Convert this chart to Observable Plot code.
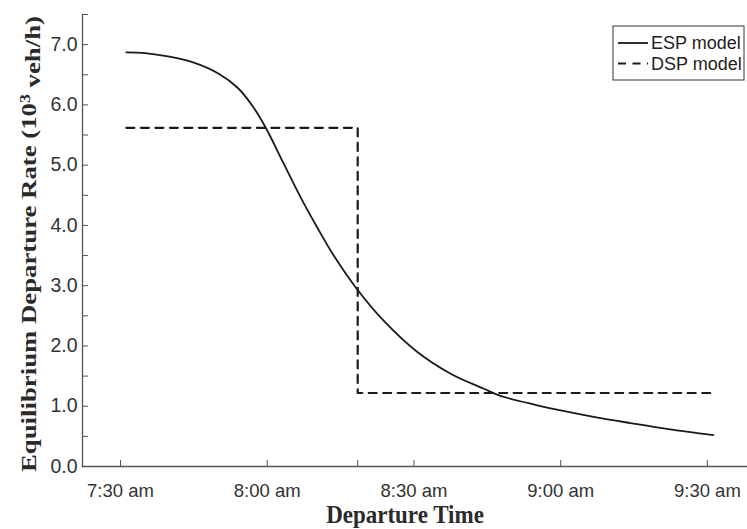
<!DOCTYPE html>
<html><head><meta charset="utf-8">
<script src="https://cdn.jsdelivr.net/npm/d3@7"></script>
<script src="https://cdn.jsdelivr.net/npm/@observablehq/plot@0.6"></script>
<style>
body{margin:0;background:#fff;}
#chart{position:relative;width:747px;height:529px;}
</style></head><body><div id="chart"></div>
<script>
// ESP model: minutes after 7:30 am, equilibrium departure rate (10^3 veh/h)
const espMinutes = [1.2, 5, 10, 15, 20, 24, 27, 29.7, 33.4, 36.8, 40.2, 43.6, 48.3, 53.8, 60.7, 67.5, 74.3, 77.4, 85, 90, 97, 104.3, 112, 121.2];
const espRate    = [6.87, 6.86, 6.80, 6.70, 6.52, 6.28, 5.98, 5.62, 5.02, 4.47, 3.97, 3.50, 2.95, 2.42, 1.90, 1.54, 1.29, 1.18, 1.02, 0.93, 0.82, 0.72, 0.62, 0.52];
// DSP model (step)
const dspMinutes = [1.2, 48.5, 48.5, 121.2];
const dspRate    = [5.62, 5.62, 1.22, 1.22];
// axis ticks
const xTickMinutes = [0, 30, 60, 90, 120];
const xTickLabels  = ["7:30 am", "8:00 am", "8:30 am", "9:00 am", "9:30 am"];
const xExtraTicks  = [48.5];
const yMajorTicks  = [0, 1, 2, 3, 4, 5, 6, 7];
const yMinorTicks  = [0.5, 1.5, 2.5, 3.5, 4.5, 5.5, 6.5, 7.5];
const seriesNames  = ["ESP model", "DSP model"];
const xAxisTitle   = "Departure Time";
const yAxisTitle   = ["Equilibrium Departure Rate (10", "3", " veh/h)"];

const esp = espMinutes.map((m, i) => ({m, v: espRate[i]}));
const dsp = dspMinutes.map((m, i) => ({m, v: dspRate[i]}));

const axisColor = "#555";
const ink = "#1a1a1a";
const tickFont = '"Liberation Sans", Arial, sans-serif';

const plot = Plot.plot({
  width: 747, height: 529,
  marginLeft: 82, marginRight: 0, marginTop: 14, marginBottom: 63,
  style: {fontFamily: tickFont, background: "#fff"},
  x: {domain: [-7.77, 128.2]},
  y: {domain: [0, 7.5]},
  marks: [
    Plot.axisY(yMajorTicks, {tickSize: 0, tickPadding: 5, tickFormat: d => d.toFixed(1), fontSize: 19.5, fill: "#333", label: null}),
    Plot.axisY(yMajorTicks.concat(yMinorTicks), {tickSize: 6, dx: 6, text: null, stroke: axisColor, label: null}),
    Plot.axisX(xTickMinutes, {tickSize: 0, tickPadding: 17, tickFormat: (d, i) => xTickLabels[xTickMinutes.indexOf(d)], fontSize: 18.5, fill: "#333", label: null}),
    Plot.axisX(xTickMinutes.concat(xExtraTicks), {tickSize: 6, dy: -6, text: null, stroke: axisColor, label: null}),
    Plot.frame({anchor: "left", stroke: axisColor, strokeWidth: 1.3}),
    Plot.frame({anchor: "bottom", stroke: axisColor, strokeWidth: 1.3}),
    Plot.line(dsp, {x: "m", y: "v", stroke: ink, strokeWidth: 2.2, strokeDasharray: "8,6.5"}),
    Plot.line(esp, {x: "m", y: "v", stroke: ink, strokeWidth: 1.8, curve: "catmull-rom"})
  ]
});

document.getElementById("chart").appendChild(plot);
const svg = d3.select(plot);

// x axis title
svg.append("text")
  .attr("transform", "translate(405,514) scale(1,1.1)")
  .attr("text-anchor", "middle").attr("dy", "0.35em")
  .style("font", 'bold 23px "Liberation Serif", "Times New Roman", serif')
  .attr("fill", "#2a2a2a")
  .text(xAxisTitle);

// y axis title
const yt = svg.append("text")
  .attr("transform", "translate(29,244) rotate(-90)")
  .attr("text-anchor", "middle").attr("dy", "0.35em")
  .attr("textLength", 456).attr("lengthAdjust", "spacingAndGlyphs")
  .style("font", 'bold 21px "Liberation Serif", "Times New Roman", serif')
  .attr("fill", "#2a2a2a");
yt.append("tspan").text(yAxisTitle[0]);
yt.append("tspan").attr("dy", "-0.45em").style("font-size", "14px").text(yAxisTitle[1]);
yt.append("tspan").attr("dy", "0.45em").text(yAxisTitle[2]);

// legend
const lg = svg.append("g").attr("transform", "translate(613,26)");
lg.append("rect").attr("width", 131).attr("height", 54).attr("fill", "#fff").attr("stroke", "#333").attr("stroke-width", 1);
seriesNames.forEach((name, i) => {
  const yy = 17 + i * 20.5;
  lg.append("line").attr("x1", 5).attr("x2", 35).attr("y1", yy).attr("y2", yy)
    .attr("stroke", ink).attr("stroke-width", i === 0 ? 1.8 : 2.2)
    .attr("stroke-dasharray", i === 0 ? null : "8,6.5");
  lg.append("text").attr("x", 38).attr("y", yy).attr("dy", "0.35em")
    .attr("text-anchor", "start")
    .style("font", '18px "Liberation Sans", Arial, sans-serif').attr("fill", "#222").text(name);
});
</script>
</body></html>
